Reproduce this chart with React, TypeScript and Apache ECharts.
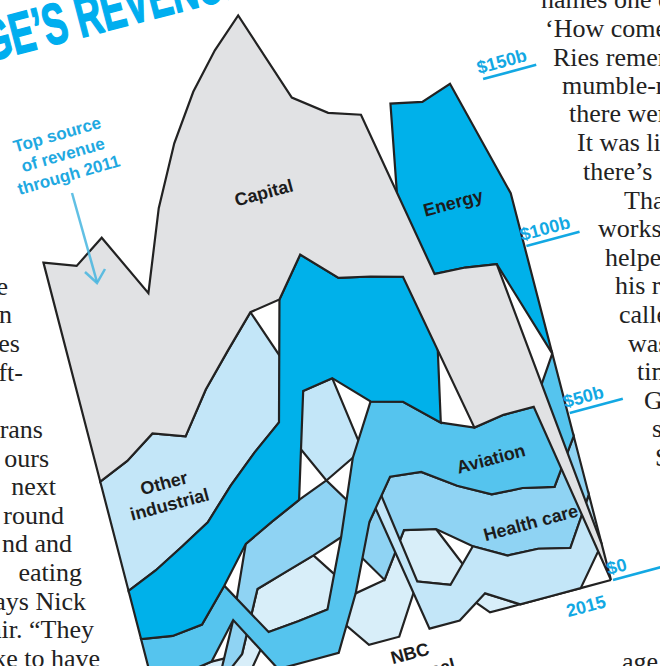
import React, { useEffect, useRef } from "react";
import * as echarts from "echarts";

// ---------- data (US$ billions) ----------
const YEARS = [2000, 2001, 2002, 2003, 2004, 2005, 2006, 2007, 2008, 2009, 2010, 2011, 2012, 2013, 2014, 2015];
const SEGMENTS = ["NBC Universal", "Health care", "Other industrial", "Aviation", "Energy", "Capital"];
const NBC = [7.2, 5.8, 7.1, 6.9, 12.9, 14.7, 16.2, 15.4, 17, 15.4, 16.7, 5.7, 0, 0, 0, 0];
const HEALTH = [0, 0, 0, 10.2, 13.5, 15.2, 16.6, 17, 17.4, 16, 17.1, 18.1, 18.3, 18.2, 18.3, 17.6];
const OTHER = [32.7, 32.8, 33.9, 25.7, 28.8, 30.6, 33, 26.8, 23.8, 14.1, 10.7, 14.1, 14.6, 14.2, 12, 14.7];
const AVIATION = [11.5, 11.4, 11.1, 10.3, 11.1, 11.9, 13, 16.8, 19.2, 22.5, 21, 18.9, 20, 21.9, 24, 24.7];
const ENERGY = [14.4, 19.6, 23.3, 19, 17.4, 20.6, 23.2, 27.4, 37, 37, 37.5, 43.7, 51, 49.6, 54, 48];
const CAPITAL = [65.6, 58.4, 58.6, 42.9, 54.3, 62, 66, 74.6, 71.6, 54, 49, 48.5, 46, 44.1, 42.7, 10.8];
const SEG_VALUES = [NBC, HEALTH, OTHER, AVIATION, ENERGY, CAPITAL];
const SEG_COLORS = ["#d8eef9", "#8fd3f3", "#c3e6f8", "#55c4ee", "#00b1ea", "#e1e2e4"];
const TICKS = [0, 50, 100, 150];
const TICK_LABELS = ["$0", "$50b", "$100b", "$150b"];
const END_LABEL = "2015";
// label anchors in data space (year, $b)
const LABEL_TEXT = ["Capital", "Energy", "Other\nindustrial", "Aviation", "Health care", "NBC\nUniversal"];
const LABEL_YEAR = [2007.37, 2013.14, 2001.96, 2012.26, 2012.98, 2008.2];
const LABEL_VALUE = [134.4, 117.4, 57.4, 42.9, 22, -8.7];

const X_MIN = 2000, X_MAX = 2015, Y_MIN = 0, Y_MAX = 200;

// ---------- skewed frame layout ----------
const ORIGIN = [157.25, 701.5]; // screen spot of (2000, $0)
const STEP_YEAR = [30.25, -8.1];
const STEP_BILLION = [-0.866, -3.34];
const ANGLE = Math.atan2(8.1, 30.25);
const ALONG = [Math.cos(ANGLE), -Math.sin(ANGLE)];
const UP = [-Math.sin(ANGLE), -Math.cos(ANGLE)];

// stacking, ranked: largest on top each year
const LO: number[][] = SEG_VALUES.map(() => []);
const HI: number[][] = SEG_VALUES.map(() => []);
YEARS.forEach((_, i) => {
  const order = SEG_VALUES.map((_, s) => s).sort((a, b) => SEG_VALUES[a][i] - SEG_VALUES[b][i]);
  let acc = 0;
  order.forEach((s) => {
    LO[s][i] = acc;
    acc += SEG_VALUES[s][i];
    HI[s][i] = acc;
  });
});

function project(api: any, year: number, value: number): number[] {
  const p = api.coord([year, value]);
  const a = api.coord([X_MIN, Y_MIN]);
  const b = api.coord([X_MAX, Y_MAX]);
  const t = ((p[0] - a[0]) / (b[0] - a[0])) * (X_MAX - X_MIN);
  const v = ((p[1] - a[1]) / (b[1] - a[1])) * (Y_MAX - Y_MIN) + Y_MIN;
  return [
    ORIGIN[0] + t * STEP_YEAR[0] + v * STEP_BILLION[0],
    ORIGIN[1] + t * STEP_YEAR[1] + v * STEP_BILLION[1],
  ];
}

const SANS = '"Liberation Sans", Arial, sans-serif';
const SERIF = '"Liberation Serif", "DejaVu Serif", serif';
const BLUE = "#12a8e3";

const LEFT_LINES = [
  { t: "e", x: 8, y: 286 }, { t: "n", x: 12, y: 314 }, { t: "es", x: 20, y: 343 },
  { t: "oft-", x: 23, y: 372 }, { t: "rans", x: 43, y: 429 }, { t: "ours", x: 49, y: 458 },
  { t: "next", x: 56, y: 486 }, { t: "round", x: 64, y: 515 }, { t: "nd and", x: 72, y: 543 },
  { t: "eating", x: 82, y: 572 }, { t: "ays Nick", x: 86, y: 601 }, { t: "air. \u201cThey", x: 94, y: 629 },
  { t: "ke to have", x: 100, y: 658 },
];
const RIGHT_LINES = [
  { t: "names one of", x: 541, y: -1 }, { t: "\u2018How come", x: 545, y: 28 },
  { t: "Ries remembers", x: 553, y: 57 }, { t: "mumble-mumble", x: 562, y: 85 },
  { t: "there were", x: 569, y: 113 }, { t: "It was like", x: 577, y: 142 },
  { t: "there\u2019s", x: 583, y: 171 }, { t: "That", x: 624, y: 200 },
  { t: "workshop", x: 598, y: 228 }, { t: "helped", x: 605, y: 257 },
  { t: "his role", x: 615, y: 285 }, { t: "called", x: 619, y: 314 },
  { t: "was", x: 628, y: 343 }, { t: "time", x: 637, y: 371 },
  { t: "GE", x: 644, y: 400 }, { t: "so", x: 652, y: 428 },
  { t: "S", x: 655, y: 457 }, { t: "age", x: 622, y: 661 },
];

export default function App() {
  const ref = useRef<HTMLDivElement>(null);
  useEffect(() => {
    if (!ref.current) return;
    const chart = echarts.init(ref.current, undefined, { renderer: "svg" });
    const graphics: any[] = [];
    LEFT_LINES.forEach((l) =>
      graphics.push({
        type: "text", x: l.x, y: l.y, z: 0,
        style: { text: l.t, fill: "#222222", font: `26px ${SERIF}`, align: "right", verticalAlign: "middle" },
      })
    );
    RIGHT_LINES.forEach((l) =>
      graphics.push({
        type: "text", x: l.x, y: l.y, z: 0,
        style: { text: l.t, fill: "#222222", font: `26px ${SERIF}`, align: "left", verticalAlign: "middle" },
      })
    );
    graphics.push({
      type: "text", x: -17, y: 42, rotation: 0.255, scaleX: 0.62,
      style: {
        text: "GE\u2019S REVENUE", fill: "#00aeef", stroke: "#00aeef", lineWidth: 1.6,
        font: `bold 58px ${SANS}`,
        align: "left", verticalAlign: "middle",
      },
    });
    graphics.push({
      type: "text", x: 63, y: 155, rotation: 0.28,
      style: {
        text: "Top source\nof revenue\nthrough 2011", fill: "#1fa9e1",
        font: `bold 17px ${SANS}`, align: "center", verticalAlign: "middle", lineHeight: 21,
      },
    });
    graphics.push({
      type: "line", z: 100, shape: { x1: 72, y1: 193, x2: 97, y2: 282 },
      style: { stroke: "#45b5df", lineWidth: 2.5, opacity: 0.85 },
    });
    graphics.push({
      type: "polyline", z: 100, shape: { points: [[85, 272], [97, 283], [105, 269]] },
      style: { stroke: "#45b5df", lineWidth: 2.5, fill: null, opacity: 0.85 },
    });

    const option: any = {
      animation: false,
      backgroundColor: "#ffffff",
      grid: { left: 0, right: 0, top: 0, bottom: 0 },
      xAxis: { type: "value", min: X_MIN, max: X_MAX, show: false },
      yAxis: { type: "value", min: Y_MIN, max: Y_MAX, show: false },
      graphic: { elements: graphics },
      series: [
        {
          type: "custom",
          name: "segments",
          clip: false,
          z: 2,
          data: SEGMENTS.map((_, s) => [X_MIN, 0, s]),
          renderItem: (params: any, api: any) => {
            const s = api.value(2) as number;
            const top: number[][] = [];
            const bot: number[][] = [];
            YEARS.forEach((yr, i) => {
              top.push(project(api, yr, HI[s][i]));
              bot.push(project(api, yr, LO[s][i]));
            });
            return {
              type: "polygon",
              shape: { points: top.concat(bot.reverse()) },
              style: { fill: SEG_COLORS[s], stroke: "#222222", lineWidth: 2.2, lineJoin: "miter" },
            };
          },
        },
        {
          type: "custom",
          name: "ticks",
          clip: false,
          data: TICKS.map((t, i) => [X_MAX, t, i]),
          renderItem: (params: any, api: any) => {
            const i = api.value(2) as number;
            const p = project(api, api.value(0), api.value(1));
            const s = [p[0] + 2, p[1]];
            const e = [s[0] + ALONG[0] * 55, s[1] + ALONG[1] * 55];
            const children: any[] = [
              { type: "line", shape: { x1: s[0], y1: s[1], x2: e[0], y2: e[1] }, style: { stroke: BLUE, lineWidth: 2.6 } },
              {
                type: "text",
                x: s[0] + UP[0] * 12 - ALONG[0] * 3,
                y: s[1] + UP[1] * 12 - ALONG[1] * 3,
                rotation: ANGLE,
                style: { text: TICK_LABELS[i], fill: BLUE, font: `bold 18px ${SANS}`, align: "left", verticalAlign: "middle" },
              },
            ];
            if (i === 0) {
              children.push({
                type: "text",
                x: p[0] - ALONG[0] * 31 - UP[0] * 18.9,
                y: p[1] - ALONG[1] * 31 - UP[1] * 18.9,
                rotation: ANGLE,
                style: { text: END_LABEL, fill: BLUE, font: `bold 18px ${SANS}`, align: "center", verticalAlign: "middle" },
              });
            }
            return { type: "group", children };
          },
        },
        {
          type: "custom",
          name: "labels",
          clip: false,
          data: LABEL_TEXT.map((_, i) => [LABEL_YEAR[i], LABEL_VALUE[i], i]),
          renderItem: (params: any, api: any) => {
            const i = api.value(2) as number;
            const p = project(api, api.value(0), api.value(1));
            return {
              type: "text",
              x: p[0],
              y: p[1],
              rotation: ANGLE,
              style: {
                text: LABEL_TEXT[i], fill: "#1c1c1c", font: `bold 18px ${SANS}`,
                align: "center", verticalAlign: "middle", lineHeight: 22,
              },
            };
          },
        },
      ],
    };
    chart.setOption(option);
    return () => chart.dispose();
  }, []);
  return <div ref={ref} style={{ position: "fixed", left: 0, top: 0, width: 660, height: 666 }} />;
}
